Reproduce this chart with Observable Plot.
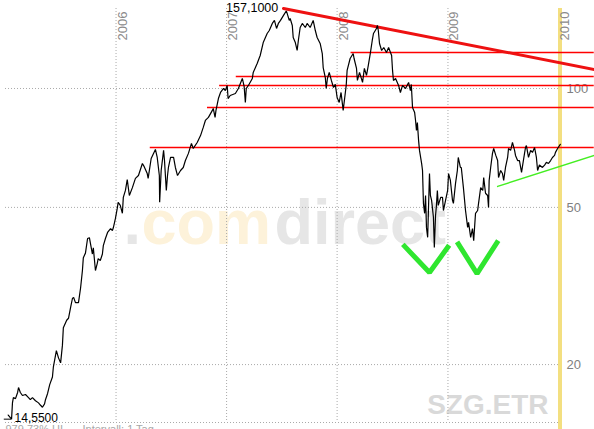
<!DOCTYPE html>
<html><head><meta charset="utf-8">
<script src="https://cdn.jsdelivr.net/npm/d3@7"></script>
<script src="https://cdn.jsdelivr.net/npm/@observablehq/plot@0.6"></script>
<style>html,body{margin:0;padding:0;background:#fff;overflow:hidden}</style>
</head><body><div id="chart"></div>
<script>
// ---- data (SZG.ETR, daily, log scale) ----
const priceDates = [
"2005-01-10","2005-01-21","2005-01-24","2005-01-27","2005-02-03","2005-02-10","2005-02-13","2005-02-19","2005-02-26","2005-03-08",
"2005-03-18","2005-03-24","2005-03-31","2005-04-10","2005-04-20","2005-04-26","2005-05-03","2005-05-10","2005-05-13","2005-05-20",
"2005-05-27","2005-06-05","2005-06-08","2005-06-18","2005-06-25","2005-07-02","2005-07-08","2005-07-11","2005-07-22","2005-07-28",
"2005-08-04","2005-08-10","2005-08-14","2005-08-20","2005-08-30","2005-09-06","2005-09-12","2005-09-15","2005-09-22","2005-09-29",
"2005-10-05","2005-10-08","2005-10-15","2005-10-18","2005-10-25","2005-10-31","2005-11-03","2005-11-10","2005-11-17","2005-11-20",
"2005-11-27","2005-12-04","2005-12-14","2005-12-20","2005-12-23","2005-12-30","2006-01-05","2006-01-08","2006-01-15","2006-01-22",
"2006-01-25","2006-02-01","2006-02-07","2006-02-14","2006-02-24","2006-03-06","2006-03-16","2006-03-29","2006-04-04","2006-04-14",
"2006-04-17","2006-04-27","2006-05-11","2006-05-17","2006-05-24","2006-05-25","2006-05-30","2006-06-07","2006-06-10","2006-06-16",
"2006-06-20","2006-06-23","2006-06-30","2006-07-10","2006-07-16","2006-07-23","2006-08-02","2006-08-11","2006-08-18","2006-08-28",
"2006-09-07","2006-09-13","2006-09-26","2006-10-07","2006-10-16","2006-10-23","2006-11-02","2006-11-15","2006-11-18","2006-11-24",
"2006-11-27","2006-12-05","2006-12-12","2006-12-22","2006-12-28","2007-01-03","2007-01-06","2007-01-13","2007-01-30","2007-02-09",
"2007-02-22","2007-02-28","2007-03-04","2007-03-07","2007-03-14","2007-03-27","2007-03-30","2007-04-12","2007-04-22","2007-05-02",
"2007-05-15","2007-05-22","2007-06-01","2007-06-08","2007-06-15","2007-06-21","2007-06-28","2007-07-08","2007-07-17","2007-07-20",
"2007-07-27","2007-07-30","2007-08-06","2007-08-09","2007-08-16","2007-08-22","2007-08-26","2007-09-01","2007-09-08","2007-09-18",
"2007-09-24","2007-10-04","2007-10-14","2007-10-21","2007-10-27","2007-11-06","2007-11-13","2007-11-16","2007-11-23","2007-11-26",
"2007-11-30","2007-12-06","2007-12-13","2007-12-20","2007-12-26","2008-01-01","2008-01-08","2008-01-14","2008-01-21","2008-01-27",
"2008-01-31","2008-02-03","2008-02-13","2008-02-23","2008-02-26","2008-03-05","2008-03-08","2008-03-15","2008-03-25","2008-03-31",
"2008-04-07","2008-04-13","2008-04-20","2008-04-26","2008-04-30","2008-05-10","2008-05-13","2008-05-16","2008-05-20","2008-05-27",
"2008-06-03","2008-06-12","2008-06-19","2008-06-29","2008-07-02","2008-07-05","2008-07-12","2008-07-22","2008-07-28","2008-08-04",
"2008-08-14","2008-08-24","2008-08-30","2008-09-02","2008-09-06","2008-09-13","2008-09-16","2008-09-19","2008-09-22","2008-09-26",
"2008-09-29","2008-10-06","2008-10-09","2008-10-12","2008-10-16","2008-10-19","2008-10-22","2008-10-26","2008-11-01","2008-11-04",
"2008-11-08","2008-11-14","2008-11-17","2008-11-21","2008-11-24","2008-11-27","2008-11-30","2008-12-08","2008-12-14","2008-12-17",
"2008-12-24","2008-12-31","2009-01-03","2009-01-09","2009-01-16","2009-01-19","2009-01-26","2009-02-01","2009-02-04","2009-02-11",
"2009-02-14","2009-02-21","2009-02-28","2009-03-07","2009-03-10","2009-03-17","2009-03-23","2009-03-27","2009-04-02","2009-04-09",
"2009-04-12","2009-04-19","2009-04-26","2009-04-29","2009-05-05","2009-05-12","2009-05-15","2009-05-17","2009-05-22","2009-05-28",
"2009-06-01","2009-06-08","2009-06-14","2009-06-17","2009-06-24","2009-06-30","2009-07-04","2009-07-10","2009-07-17","2009-07-20",
"2009-07-27","2009-08-02","2009-08-09","2009-08-12","2009-08-19","2009-08-25","2009-09-01","2009-09-07","2009-09-14","2009-09-17",
"2009-09-24","2009-10-01","2009-10-07","2009-10-14","2009-10-20","2009-10-24","2009-10-30","2009-11-09","2009-11-16","2009-11-22",
"2009-11-29","2009-12-06","2009-12-12","2009-12-19","2009-12-22","2009-12-29","2009-12-31","2010-01-07"];
const priceValues = [
14.9,14.55,16.0,16.5,16.4,17.0,17.5,17.0,16.7,16.8,
16.5,16.3,16.5,16.2,16.0,15.8,15.6,15.9,16.3,16.9,
17.8,18.6,19.7,21.7,20.8,20.2,22.4,24.8,25.9,26.2,
27.9,29.4,29.6,28.7,28.7,31.3,34.6,37.3,38.3,41.7,
41.9,40.7,38.1,39.5,34.6,36.1,37.1,36.7,38.1,40.0,
41.7,43.2,44.2,43.7,44.4,46.9,49.7,51.5,50.6,48.3,
53.0,55.2,58.8,53.6,56.1,59.2,60.2,64.6,63.4,60.9,
59.2,66.5,70.1,66.9,60.2,51.5,62.0,69.7,65.7,55.2,
60.2,63.1,66.9,66.9,63.1,60.2,62.0,63.1,65.7,68.5,
72.6,70.5,73.0,76.0,79.7,83.0,84.5,88.0,89.0,84.5,
88.0,94.3,97.7,100.0,98.8,101.8,94.3,96.0,97.1,100.0,
106.0,101.2,92.2,100.0,101.8,106.0,109.8,115.7,121.2,130.7,
137.8,140.2,146.1,148.7,141.9,146.1,148.7,153.1,157.1,155.0,
148.7,150.4,144.4,134.6,130.7,124.8,132.3,142.7,146.1,142.7,
146.1,142.7,148.7,140.2,134.6,130.0,122.6,113.0,106.6,100.0,
106.0,109.8,104.8,100.6,102.4,94.9,92.2,97.7,88.0,96.0,
101.8,111.1,119.1,122.6,119.1,112.4,104.8,109.8,103.6,112.4,
107.9,114.4,123.3,132.3,137.8,141.9,144.4,140.2,130.0,124.8,
127.0,123.3,127.0,121.2,111.1,104.8,106.0,101.8,97.7,101.8,
100.0,103.6,98.8,102.4,89.5,86.9,83.0,78.3,82.0,73.9,
69.7,64.6,62.0,51.2,48.3,53.6,44.5,42.0,60.9,53.6,
52.1,47.2,39.6,47.7,50.6,55.2,50.6,53.0,53.0,49.1,
52.1,55.2,60.9,58.5,52.1,51.2,57.5,62.0,66.9,63.1,
63.1,56.1,49.1,44.5,45.8,42.0,44.2,41.2,48.3,49.1,
51.2,56.1,55.2,59.5,54.3,53.6,50.0,58.5,63.1,68.5,
70.5,67.7,65.7,59.5,62.0,60.9,58.5,63.1,66.9,70.5,
69.7,73.0,69.7,67.7,65.7,65.7,61.3,65.7,70.9,71.7,
66.9,69.7,68.9,70.9,66.9,62.0,64.0,63.1,64.0,65.0,
64.6,65.7,66.9,67.7,68.9,70.5,70.9,72.2];

const yearDates = ["2006-01-01","2007-01-01","2008-01-01","2009-01-01","2010-01-01"];
const yearLabels = ["2006","2007","2008","2009","2010"];
const gridYearDates = ["2006-01-01","2007-01-01","2008-01-01","2009-01-01"];
const yTicks = [20, 50, 100];

// horizontal support/resistance levels (red)
const levelValues = [123.3, 107.2, 101.8, 89.5, 70.9];
const levelStarts = ["2008-02-16","2007-02-02","2006-12-09","2006-10-30","2006-04-24"];
const lineEnd = "2010-04-29";
// falling resistance line (thick red)
const resistDates = ["2007-07-08", lineEnd];
const resistValues = [159.4, 111.7];
// rising support line (green)
const supportDates = ["2009-06-14", lineEnd];
const supportValues = [56.5, 67.7];
// double-bottom "V" marks (green)
const v1Dates = ["2008-08-05","2008-11-01","2009-01-05"];
const v1Values = [40.3, 34.2, 40.1];
const v2Dates = ["2009-01-31","2009-04-07","2009-06-16"];
const v2Values = [40.9, 34.0, 41.2];

const highLabel = "157,1000", highDate = "2007-07-17", highValue = 157.1;
const lowLabel = "14,5500", lowDate = "2005-01-21", lowValue = 14.55, lowTickStart = "2004-12-28";
const todayDate = "2010-01-01";
const footerLeft = "979,73% HI", footerRight = "Intervall: 1 Tag";
const symbol = "SZG.ETR";

// ---- build tables ----
const P = s => new Date(s + "T00:00:00Z");
const price = priceDates.map((d, i) => ({date: P(d), value: priceValues[i]}));
const levels = levelValues.map((v, i) => ({start: P(levelStarts[i]), end: P(lineEnd), value: v}));
const toPts = (ds, vs) => ds.map((d, i) => ({date: P(d), value: vs[i]}));
const resist = toPts(resistDates, resistValues);
const support = toPts(supportDates, supportValues);
const v1 = toPts(v1Dates, v1Values);
const v2 = toPts(v2Dates, v2Values);
const years = yearDates.map((d, i) => ({date: P(d), label: yearLabels[i]}));

const yMin = 14.27, yMax = 159.4;
const grid = {stroke: "#aaaaaa", strokeDasharray: "1,2", strokeWidth: 1};
const font = "'Liberation Sans', Arial, sans-serif";
const wm = {frameAnchor: "left", textAnchor: "start", lineAnchor: "bottom", dy: 28, fontSize: 63, fontWeight: "bold", fontFamily: font};

const chart = Plot.plot({
  width: 594, height: 429,
  marginLeft: 5, marginRight: 36, marginTop: 8, marginBottom: 7,
  style: {fontFamily: font, fontSize: "13px", color: "#808080", background: "#fff"},
  x: {type: "utc", domain: [P("2005-01-01"), P("2010-01-01")], axis: null},
  y: {type: "log", domain: [yMin, yMax], axis: "right", ticks: yTicks, tickFormat: d => String(d), tickSize: 0, tickPadding: 8, label: null},
  marks: [
    // watermark
    Plot.text(["."], {...wm, text: d => d, dx: 118, fill: "#e6e6e6"}),
    Plot.text(["com"], {...wm, text: d => d, dx: 136, fill: "#fdf2da"}),
    Plot.text(["direct"], {...wm, text: d => d, dx: 269, fill: "#e6e6e6"}),
    Plot.text([symbol], {text: d => d, frameAnchor: "bottom-right", textAnchor: "end", lineAnchor: "bottom", dx: -10, dy: -9, fontSize: 28, fontWeight: "bold", fill: "#d9d9d9"}),
    // grid
    Plot.ruleY(yTicks, grid),
    Plot.ruleY([yMin], grid),
    Plot.ruleX(gridYearDates.map(P), grid),
    Plot.ruleX([P(todayDate)], {stroke: "#f3df80", strokeWidth: 4, dx: 1.5, insetBottom: -7}),
    // year labels
    Plot.text(years, {x: "date", text: "label", frameAnchor: "top", rotate: -90, textAnchor: "start", lineAnchor: "bottom", dx: 10.5, dy: 32, fontSize: 13, fill: "#8a8a8a"}),
    // red levels
    Plot.ruleY(levels, {y: "value", x1: "start", x2: "end", stroke: "#ff0000", strokeWidth: 1.4}),
    Plot.line(resist, {x: "date", y: "value", stroke: "#ee1111", strokeWidth: 3}),
    // price
    Plot.line(price, {x: "date", y: "value", stroke: "#000", strokeWidth: 1.2, strokeLinejoin: "miter"}),
    // green
    Plot.line(support, {x: "date", y: "value", stroke: "#44ee22", strokeWidth: 1.4}),
    Plot.line(v1, {x: "date", y: "value", stroke: "#2fe62f", strokeWidth: 5, strokeLinejoin: "miter", strokeLinecap: "butt"}),
    Plot.line(v2, {x: "date", y: "value", stroke: "#2fe62f", strokeWidth: 5, strokeLinejoin: "miter", strokeLinecap: "butt"}),
    // extremes
    Plot.text([{date: P(highDate), value: highValue, label: highLabel}], {x: "date", y: "value", text: "label", textAnchor: "end", dx: -8, dy: -2.5, fontSize: 12.5, fill: "#000"}),
    Plot.ruleY([{s: P(lowTickStart), e: P(lowDate), value: lowValue}], {y: "value", x1: "s", x2: "e", stroke: "#000", strokeWidth: 1}),
    Plot.text([{date: P(lowDate), value: lowValue, label: lowLabel}], {x: "date", y: "value", text: "label", textAnchor: "start", dx: 3, dy: -1.5, fontSize: 12, fill: "#000"}),
    // footer (cut off at the bottom edge, as in the reference)
    Plot.text([footerLeft], {text: d => d, frameAnchor: "bottom-left", textAnchor: "start", lineAnchor: "top", dx: 0, dy: 3, fontSize: 11, fill: "#a8a8a8"}),
    Plot.text([footerRight], {text: d => d, frameAnchor: "bottom-left", textAnchor: "start", lineAnchor: "top", dx: 77, dy: 3, fontSize: 11, fill: "#a8a8a8"})
  ]
});
document.getElementById("chart").appendChild(chart);
</script>
</body></html>
